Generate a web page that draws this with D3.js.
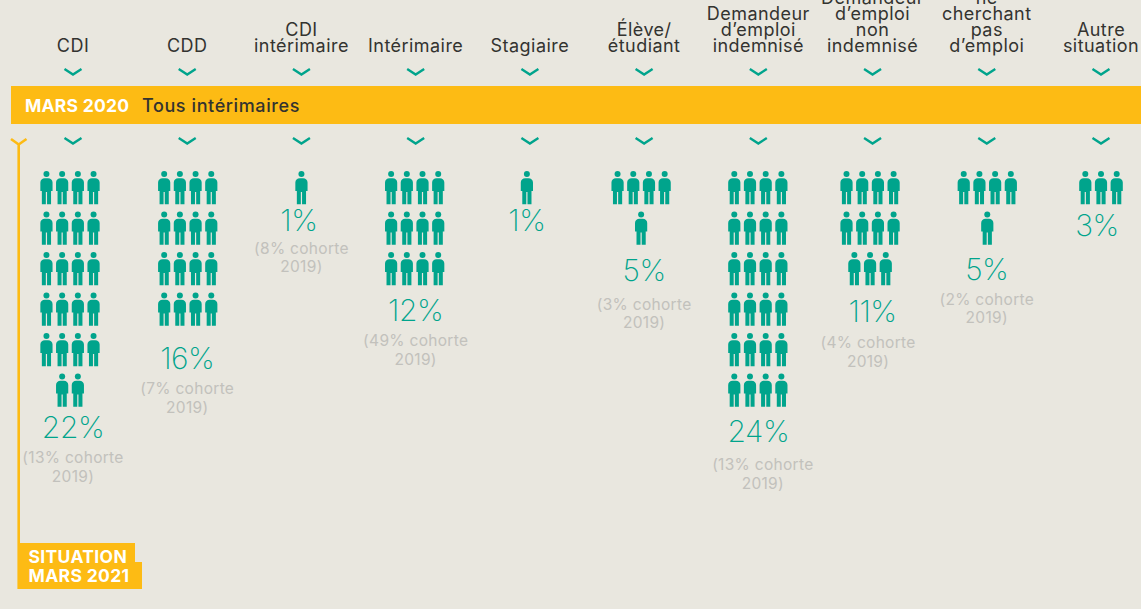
<!DOCTYPE html>
<html>
<head>
<meta charset="utf-8">
<script src="https://cdn.jsdelivr.net/npm/d3@7"></script>
<style>
html, body { margin: 0; padding: 0; background: #e9e7df; overflow: hidden; }
svg { display: block; font-family: "Inter", sans-serif; }
</style>
</head>
<body>
<svg id="svg1" width="1141" height="609"></svg>
<script>
var categories = ['CDI', 'CDD', 'CDI intérimaire', 'Intérimaire', 'Stagiaire', 'Élève/ étudiant',
                  'Demandeur d\u2019emploi indemnisé', 'Demandeur d\u2019emploi non indemnisé',
                  'Ne cherchant pas d\u2019emploi', 'Autre situation'];
var categoryLines = [['CDI'], ['CDD'], ['CDI', 'intérimaire'], ['Intérimaire'], ['Stagiaire'], ['Élève/', 'étudiant'],
                     ['Demandeur', 'd\u2019emploi', 'indemnisé'], ['Demandeur', 'd\u2019emploi', 'non', 'indemnisé'],
                     ['ne', 'cherchant', 'pas', 'd\u2019emploi'], ['Autre', 'situation']];
var values2021 = [22, 16, 1, 12, 1, 5, 24, 11, 5, 3];
var values2019 = [13, 7, 8, 49, null, 3, 13, 4, 2, null];

// hand nudges, the blocks are not quite regular in the original
var iconShift = [-3, 0.5, 0, -1, -3, -3, -0.5, -2.5, 0.5, 0];
var labelShift = [4.5, 16.5, 0, 9.5, 0, 9.5, 8.5, 10.5, 8.5, 5];
var labelShiftX = [0, 0, -2.5, 0, -3, 0, 0, 0, 0, -4];
var cohortGap = [25.5, 25.5, 23, 25, 0, 29, 28.5, 26, 25, 0];
var cohortShiftX = [0, 0, 0, 0, 0, 0, 4.5, -4.5, 0, 0];

var width = 1141;
var height = 609;
var teal = '#00a48c';
var yellow = '#fdbb14';
var dark = '#333330';

var svg = d3.select('svg');

var x = d3.scalePoint().domain(categories).range([73, 1101]);
var iconX = d3.scaleLinear().domain([0, 1]).range([0, 15.7]);
var rowY = d3.scaleLinear().domain([0, 1]).range([171, 211.5]);

// column headers
var head = svg.append('g').selectAll('text')
    .data(categories)
    .enter()
    .append('text')
    .attr('text-anchor', 'middle')
    .attr('font-size', 18)
    .attr('letter-spacing', 0.45)
    .attr('fill', dark)
    .attr('transform', function(d) { return 'translate(' + x(d) + ',0)'; });

head.selectAll('tspan')
    .data(function(d, i) {
        var lines = categoryLines[i];
        return lines.map(function(l, j) { return { text: l, y: 52 - 16 * (lines.length - 1 - j) }; });
    })
    .enter()
    .append('tspan')
    .attr('x', 0)
    .attr('y', function(d) { return d.y; })
    .text(function(d) { return d.text; });

// chevrons above and under the band
[69, 138].forEach(function(y) {
    svg.append('g').selectAll('path')
        .data(categories)
        .enter()
        .append('path')
        .attr('d', function(d) {
            return 'M' + (x(d) - 8.5) + ',' + y + 'L' + x(d) + ',' + (y + 5.5) + 'L' + (x(d) + 8.5) + ',' + y;
        })
        .attr('fill', 'none')
        .attr('stroke', teal)
        .attr('stroke-width', 2.4);
});

// band
svg.append('rect').attr('x', 11).attr('y', 86).attr('width', width - 11).attr('height', 38).attr('fill', yellow);
svg.append('text').attr('x', 25).attr('y', 112).attr('font-size', 17.5).attr('font-weight', 700)
    .attr('letter-spacing', 0.25).attr('fill', '#fff').text('MARS 2020');
svg.append('text').attr('x', 142).attr('y', 112).attr('font-size', 18).attr('font-weight', 500)
    .attr('letter-spacing', 0.6).attr('fill', dark).text('Tous intérimaires');

// yellow time line
svg.append('path')
    .attr('d', 'M11,139L18.7,144.5L26.5,139M18.7,144.5V589')
    .attr('fill', 'none').attr('stroke', yellow).attr('stroke-width', 2.6);
svg.append('rect').attr('x', 18).attr('y', 543).attr('width', 117).attr('height', 22).attr('fill', yellow);
svg.append('rect').attr('x', 18).attr('y', 562).attr('width', 124).attr('height', 27).attr('fill', yellow);
svg.append('text').attr('x', 28.5).attr('y', 563).attr('font-size', 17.5).attr('font-weight', 700)
    .attr('letter-spacing', 0.35).attr('fill', '#fff').text('SITUATION');
svg.append('text').attr('x', 28.5).attr('y', 582).attr('font-size', 17.5).attr('font-weight', 700)
    .attr('letter-spacing', 0.35).attr('fill', '#fff').text('MARS 2021');

// little man, origin is the centre top of the head
var manPath = 'M-1.6,7.2H1.6C4.2,7.2 6.1,8.9 6.1,11.5V20H4.6V33.3H0.6V21H-0.6V33.3H-4.6V20H-6.1V11.5C-6.1,8.9 -4.2,7.2 -1.6,7.2Z';

var columns = svg.append('g').selectAll('g')
    .data(categories)
    .enter()
    .append('g')
    .attr('transform', function(d) { return 'translate(' + x(d) + ',0)'; });

columns.each(function(cat, c) {
    var g = d3.select(this);
    var n = values2021[c];
    var icons = d3.range(n).map(function(i) {
        var row = Math.floor(i / 4);
        var inRow = Math.min(4, n - row * 4);
        return { row: row, col: i % 4, inRow: inRow };
    });

    var man = g.selectAll('g.man')
        .data(icons)
        .enter()
        .append('g')
        .attr('class', 'man')
        .attr('transform', function(d) {
            var dx = iconX(d.col - (d.inRow - 1) / 2) + iconShift[c];
            return 'translate(' + dx + ',' + rowY(d.row) + ')';
        });
    man.append('circle').attr('cx', 0).attr('cy', 3).attr('r', 3).attr('fill', teal);
    man.append('path').attr('d', manPath).attr('fill', teal);

    var rows = Math.ceil(n / 4);
    var py = rowY(rows) + 19 + labelShift[c];

    g.append('text')
        .attr('text-anchor', 'middle')
        .attr('x', labelShiftX[c])
        .attr('y', py)
        .attr('font-size', 30)
        .attr('font-weight', 200)
        .attr('letter-spacing', -0.5)
        .attr('fill', teal)
        .text(n + '%');

    if (values2019[c] !== null) {
        g.append('text')
            .attr('text-anchor', 'middle')
            .attr('x', cohortShiftX[c])
            .attr('y', py + cohortGap[c])
            .attr('font-size', 15.5)
            .attr('letter-spacing', 0.3)
            .attr('fill', '#c2c1bc')
            .text('(' + values2019[c] + '% cohorte');
        g.append('text')
            .attr('text-anchor', 'middle')
            .attr('x', cohortShiftX[c])
            .attr('y', py + cohortGap[c] + 18.5)
            .attr('font-size', 15.5)
            .attr('letter-spacing', 0.3)
            .attr('fill', '#c2c1bc')
            .text('2019)');
    }
});
</script>
</body>
</html>
